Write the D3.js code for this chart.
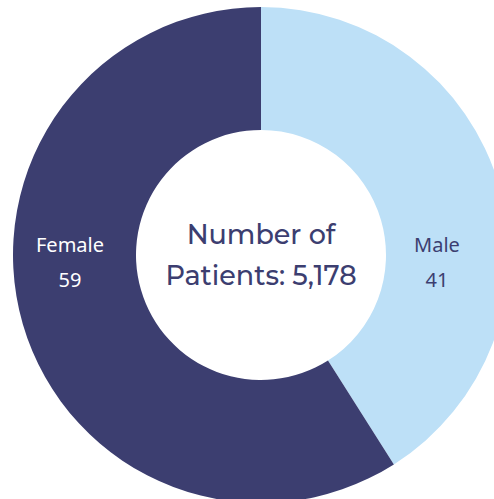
<!DOCTYPE html>
<html>
<head>
<meta charset="utf-8">
<script src="https://cdn.jsdelivr.net/npm/d3@7"></script>
<style>
  body { margin: 0; background: #fff; }
</style>
</head>
<body>
<div id="chart"></div>
<script>
const categories = ["Male", "Female"];
const values = [41, 59];
const colors = ["#bde0f7", "#3c3e70"];
const labelColors = ["#3c3e70", "#ffffff"];
const centerLines = ["Number of", "Patients: 5,178"];

const width = 494, height = 499;
const cx = 261, cy = 255;
const outerR = 248, innerR = 125;

const svg = d3.select("#chart").append("svg")
    .attr("width", width)
    .attr("height", height);

const g = svg.append("g")
    .attr("transform", "translate(" + cx + "," + cy + ")");

const data = categories.map((c, i) => ({label: c, value: values[i], index: i}));

const pie = d3.pie()
    .value(d => d.value)
    .sort(null);

const arc = d3.arc()
    .innerRadius(innerR)
    .outerRadius(outerR);

const arcs = pie(data);

g.selectAll(".slice")
    .data(arcs)
    .join("path")
    .attr("class", "slice")
    .attr("d", arc)
    .attr("fill", d => colors[d.data.index]);

// labels sit on the horizontal through the centre, mid-ring
const labelR = 186;
const labelG = g.selectAll(".labelG")
    .data(arcs)
    .join("g")
    .attr("class", "labelG")
    .attr("transform", d => {
        const mid = (d.startAngle + d.endAngle) / 2;
        const side = Math.sin(mid) >= 0 ? 1 : -1;
        const x = side > 0 ? labelR - 10 : -labelR - 5;
        return "translate(" + x + ",0)";
    })
    .style("font-family", "'Source Sans Pro', 'Noto Sans', sans-serif")
    .style("font-size", "20px")
    .attr("text-anchor", "middle")
    .attr("fill", d => labelColors[d.data.index]);

labelG.append("text")
    .attr("y", -3)
    .text(d => d.data.label);
labelG.append("text")
    .attr("y", 32)
    .text(d => d.data.value);

g.append("g")
    .attr("class", "centerText")
    .selectAll("text")
    .data(centerLines)
    .join("text")
    .attr("text-anchor", "middle")
    .attr("y", (d, i) => -11 + i * 41)
    .style("font-family", "Montserrat, 'Open Sans', sans-serif")
    .style("font-size", "27px")
    .style("font-weight", "500")
    .attr("fill", "#3c3e70")
    .text(d => d);
</script>
</body>
</html>
